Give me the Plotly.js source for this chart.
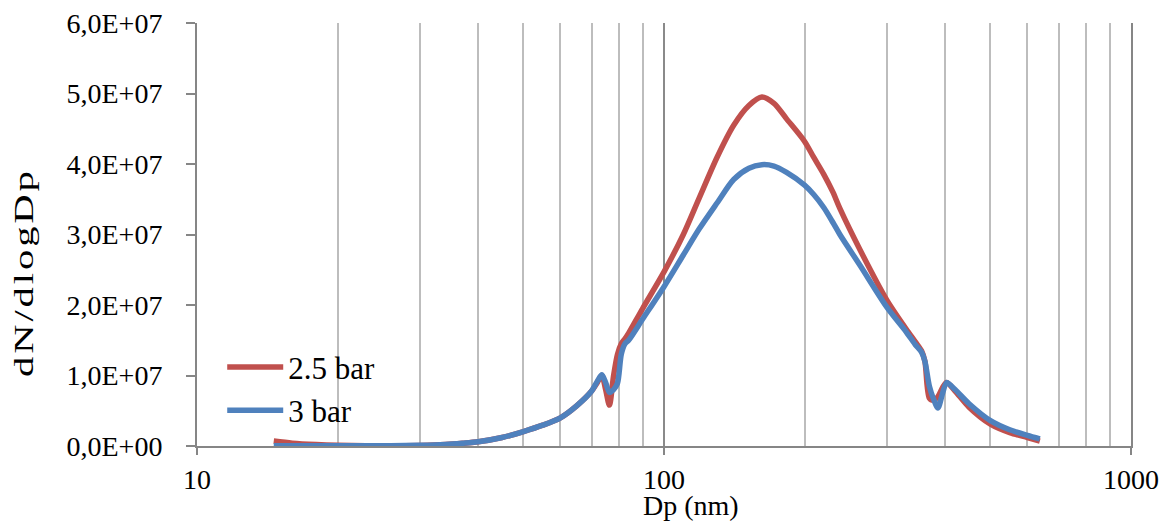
<!DOCTYPE html>
<html>
<head>
<meta charset="utf-8">
<script src="https://cdn.plot.ly/plotly-3.0.1.min.js"></script>
<style>
  html, body { margin: 0; padding: 0; background: #ffffff; }
  #chart { width: 1171px; height: 521px; }
</style>
</head>
<body>
<div id="chart"></div>
<script>
// Particle diameter bins (nm)
const dp = [14.6, 16, 18, 20, 23, 26, 30, 34, 37, 40, 45, 50, 55, 60, 65, 70, 72, 73.6, 75, 76.4,
            78, 79.5, 81, 82.5, 84, 90, 100, 110, 119, 130, 141, 152, 162, 172, 183, 200, 209, 220,
            230, 238, 263, 300, 330, 345, 356, 362, 370, 378, 386, 395, 403, 420, 450, 500, 550, 600, 638];

// dN/dlogDp at 2.5 bar
const bar25 = [7.0e5, 4.0e5, 2.0e5, 1.0e5, 5e4, 4e4, 8e4, 2.0e5, 3.8e5, 6.0e5, 1.2e6, 2.05e6, 2.95e6, 4.0e6, 5.7e6, 7.8e6, 9.0e6, 1.0e7, 8.0e6, 5.8e6,
               1.0e7, 1.3e7, 1.45e7, 1.52e7, 1.6e7, 1.95e7, 2.47e7, 3.0e7, 3.52e7, 4.1e7, 4.55e7, 4.83e7, 4.95e7, 4.86e7, 4.64e7, 4.32e7, 4.1e7, 3.85e7,
               3.6e7, 3.37e7, 2.78e7, 2.07e7, 1.66e7, 1.48e7, 1.35e7, 1.2e7, 6.8e6, 6.5e6, 7.0e6, 8.3e6, 9.0e6, 7.8e6, 5.5e6, 3.1e6, 1.9e6, 1.2e6, 7.0e5];

// dN/dlogDp at 3 bar
const bar3 = [5e4, 3e4, 2e4, 2e4, 2e4, 4e4, 9e4, 2.1e5, 3.9e5, 6.0e5, 1.2e6, 2.05e6, 2.95e6, 4.0e6, 5.7e6, 7.8e6, 9.2e6, 1.01e7, 9.0e6, 7.6e6,
              8.0e6, 8.9e6, 1.3e7, 1.45e7, 1.5e7, 1.8e7, 2.26e7, 2.71e7, 3.08e7, 3.45e7, 3.78e7, 3.94e7, 3.99e7, 3.97e7, 3.88e7, 3.70e7, 3.57e7, 3.38e7,
              3.17e7, 3.0e7, 2.56e7, 1.97e7, 1.62e7, 1.44e7, 1.33e7, 1.2e7, 8.5e6, 6.6e6, 5.4e6, 7.5e6, 9.0e6, 8.0e6, 6.0e6, 3.6e6, 2.3e6, 1.5e6, 1.0e6];

const seriesNames = ['2.5 bar', '3 bar'];

// Axis ticks
const xTickVals = [10, 100, 1000];
const xTickText = ['10', '100', '1000'];
const xMinorVals = [20, 30, 40, 50, 60, 70, 80, 90, 200, 300, 400, 500, 600, 700, 800, 900];
const yTickVals = [0, 1e7, 2e7, 3e7, 4e7, 5e7, 6e7];
const yTickText = ['0,0E+00', '1,0E+07', '2,0E+07', '3,0E+07', '4,0E+07', '5,0E+07', '6,0E+07'];

const xTitle = 'Dp (nm)';
const yTitle = 'dN/dlogDp';

const serif = 'Liberation Serif, Times New Roman, serif';
const axisGray = '#868686';

const traces = [
  {
    x: dp, y: bar25, name: seriesNames[0], type: 'scatter', mode: 'lines',
    line: { color: '#C0504D', width: 5.5, shape: 'spline', smoothing: 0.8 }
  },
  {
    x: dp, y: bar3, name: seriesNames[1], type: 'scatter', mode: 'lines',
    line: { color: '#4F81BD', width: 5.5, shape: 'spline', smoothing: 0.8 }
  }
];

const layout = {
  width: 1171,
  height: 521,
  margin: { l: 197, r: 40, t: 23, b: 75 },
  paper_bgcolor: '#ffffff',
  plot_bgcolor: '#ffffff',
  showlegend: true,
  legend: {
    x: 0.027, y: 0.25, xanchor: 'left', yanchor: 'top',
    bgcolor: 'rgba(0,0,0,0)', borderwidth: 0,
    font: { family: serif, size: 31, color: '#000000' },
    itemwidth: 56, tracegroupgap: 0
  },
  xaxis: {
    type: 'log',
    range: [1, 3],
    tickmode: 'array',
    tickvals: xTickVals,
    ticktext: xTickText,
    showgrid: true,
    gridcolor: '#8a8a8a',
    gridwidth: 2,
    minor: { tickvals: xMinorVals, showgrid: true, gridcolor: '#bdbdbd', gridwidth: 2, ticks: '' },
    showline: true,
    linecolor: axisGray,
    linewidth: 2,
    ticks: 'outside',
    ticklen: 7,
    tickwidth: 2,
    tickcolor: axisGray,
    ticklabelstandoff: 0,
    zeroline: false,
    tickfont: { family: serif, size: 28, color: '#000000' }
  },
  yaxis: {
    range: [0, 6e7],
    tickmode: 'array',
    tickvals: yTickVals,
    ticktext: yTickText,
    showgrid: false,
    showline: true,
    mirror: true,
    linecolor: axisGray,
    linewidth: 2,
    ticks: 'outside',
    ticklen: 9,
    tickwidth: 2,
    tickcolor: axisGray,
    ticklabelstandoff: 18,
    zeroline: false,
    tickfont: { family: serif, size: 28, color: '#000000' }
  },
  annotations: [
    {
      text: xTitle, xref: 'paper', yref: 'paper', x: 0.529, y: -0.140,
      xanchor: 'center', yanchor: 'middle', showarrow: false,
      font: { family: serif, size: 28, color: '#000000' }
    },
    {
      text: yTitle, xref: 'paper', yref: 'paper', x: -0.1858, y: 0.411,
      xanchor: 'center', yanchor: 'middle', showarrow: false, textangle: -90,
      font: { family: serif, size: 28, color: '#000000' }
    }
  ]
};

Plotly.newPlot('chart', traces, layout, { staticPlot: true, displayModeBar: false }).then(function (gd) {
  // The vertical axis title is set wide and loosely spaced along its reading direction.
  const t = gd.querySelector('.annotation[data-index="1"] text');
  if (t) {
    t.style.letterSpacing = '2px';
    const b = t.getBBox();
    const cx = b.x + b.width / 2;
    const cy = b.y + b.height / 2;
    const prev = t.getAttribute('transform') || '';
    t.setAttribute('transform', prev + ' translate(' + cx + ',' + cy + ') scale(1.45,1) translate(' + (-cx) + ',' + (-cy) + ')');
  }
});
</script>
</body>
</html>
